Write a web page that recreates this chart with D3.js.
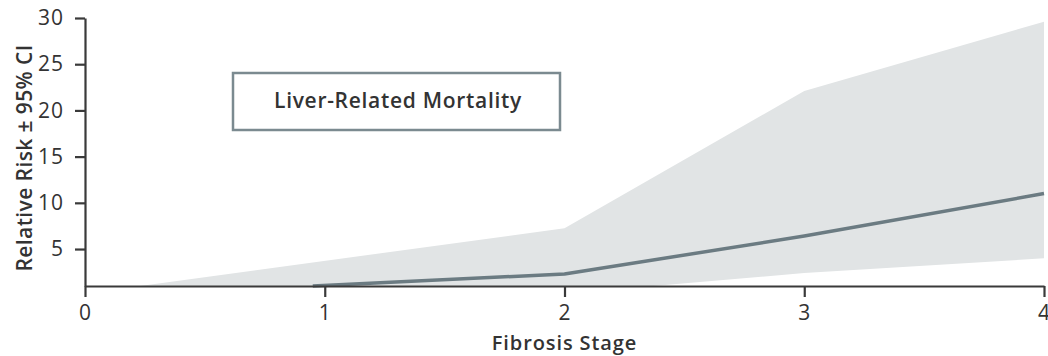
<!DOCTYPE html>
<html>
<head>
<meta charset="utf-8">
<script src="https://cdn.jsdelivr.net/npm/d3@7"></script>
<style>
  html, body { margin: 0; padding: 0; background: #fff; }
  text { font-family: "Open Sans", Lato, sans-serif; fill: #333; }
</style>
</head>
<body>
<svg id="chart" width="1048" height="356"></svg>
<script>
// ---- Data ----
const xTicks = [0, 1, 2, 3, 4];
const yTicks = [5, 10, 15, 20, 25, 30];

// Mean relative risk line
const lineStage = [0.95, 2, 3, 4];
const lineRisk  = [1.0, 2.3, 6.4, 11.0];

// Upper 95% CI boundary
const upperStage = [0.23, 2, 3, 4];
const upperRisk  = [1.0, 7.25, 22.1, 29.6];

// Lower 95% CI boundary
const lowerStage = [0.23, 2.37, 3, 4];
const lowerRisk  = [1.0, 1.0, 2.4, 4.0];

const legendLabel = "Liver-Related Mortality";
const xTitle = "Fibrosis Stage";
const yTitle = "Relative Risk \u00B1 95% CI";

// ---- Layout ----
const W = 1048, H = 356;
const margin = { left: 85, right: 4, top: 18, bottom: 70 };
const svg = d3.select("#chart");

const x = d3.scaleLinear().domain([0, 4]).range([margin.left, W - margin.right]);
const y = d3.scaleLinear().domain([1, 30]).range([H - margin.bottom, margin.top]);

// CI band polygon
const bandPts = upperStage.map((s, i) => [s, upperRisk[i]])
  .concat(lowerStage.map((s, i) => [s, lowerRisk[i]]).reverse());
svg.append("path")
  .attr("d", d3.line().x(d => x(d[0])).y(d => y(d[1]))(bandPts) + "Z")
  .attr("fill", "#e1e4e5")
  .attr("stroke", "none");

// Mean line
const linePts = lineStage.map((s, i) => [s, lineRisk[i]]);
svg.append("path")
  .attr("d", d3.line().x(d => x(d[0])).y(d => y(d[1]))(linePts))
  .attr("fill", "none")
  .attr("stroke", "#6b7b82")
  .attr("stroke-width", 3.5)
  .attr("stroke-linejoin", "round");

// Axes
const xAxis = svg.append("g")
  .attr("transform", `translate(0,${y(1)})`)
  .call(d3.axisBottom(x).tickValues(xTicks).tickSize(11).tickSizeOuter(0).tickPadding(8).tickFormat(d3.format("d")));
const yAxis = svg.append("g")
  .attr("transform", `translate(${x(0)},0)`)
  .call(d3.axisLeft(y).tickValues(yTicks).tickSize(10).tickSizeOuter(0).tickPadding(11).tickFormat(d3.format("d")));

[xAxis, yAxis].forEach(g => {
  g.select(".domain").attr("stroke", "#3a3a3a").attr("stroke-width", 2.2);
  g.selectAll(".tick line").attr("stroke", "#3a3a3a").attr("stroke-width", 2.2);
  g.selectAll(".tick text")
    .style("font-family", "'Open Sans', Lato, sans-serif")
    .style("font-size", "21px")
    .style("letter-spacing", "1px")
    .attr("fill", "#333");
});

// Axis titles
svg.append("text")
  .attr("x", x(2))
  .attr("y", 350)
  .attr("text-anchor", "middle")
  .style("font-size", "20px")
  .style("font-weight", "600")
  .style("letter-spacing", "0.9px")
  .text(xTitle);

svg.append("text")
  .attr("transform", `translate(32,${158}) rotate(-90)`)
  .attr("text-anchor", "middle")
  .style("font-size", "21px")
  .style("font-weight", "600")
  .style("letter-spacing", "0.4px")
  .text(yTitle);

// Legend box
svg.append("rect")
  .attr("x", 233).attr("y", 73)
  .attr("width", 327).attr("height", 57)
  .attr("fill", "#fff")
  .attr("stroke", "#7b8a90")
  .attr("stroke-width", 2.5);
svg.append("text")
  .attr("x", 398).attr("y", 108)
  .attr("text-anchor", "middle")
  .style("font-size", "21px")
  .style("font-weight", "600")
  .style("letter-spacing", "0.7px")
  .text(legendLabel);
</script>
</body>
</html>
